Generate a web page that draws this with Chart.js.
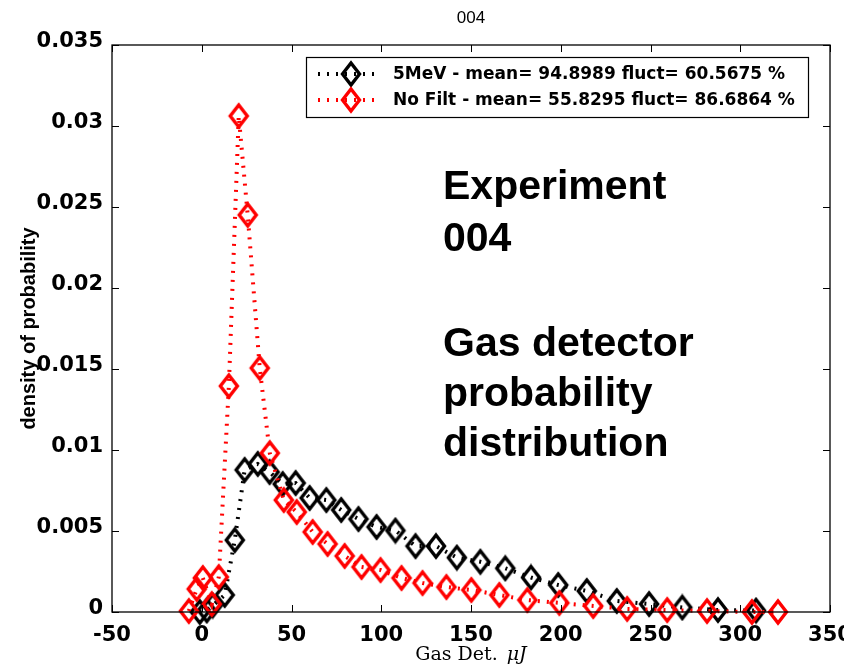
<!DOCTYPE html>
<html>
<head>
<meta charset="utf-8">
<script src="https://cdn.jsdelivr.net/npm/chart.js@4"></script>
<style>
    html, body { margin: 0; padding: 0; background: #fff; }
    #box { width: 844px; height: 667px; }
</style>
</head>
<body>
<div id="box"><canvas id="grafico"></canvas></div>
<script>
// 5MeV filter run
const xFiltro = [-1.1, 2.8, 6.1, 12.8, 18.4, 23.9, 31.2, 37.8, 45.1, 52.3, 60.1, 69.4, 77.7, 87.3, 97.4, 107.9, 119.1, 130.5, 142.1, 155.2, 169.1, 183.4, 198.6, 214.5, 231.2, 249.2, 267.7, 287.6, 308.8];
const yFiltro = [0, 0.0001, 0.0004, 0.00105, 0.00444, 0.00877, 0.00914, 0.00864, 0.0079, 0.00796, 0.00704, 0.00691, 0.0063, 0.00574, 0.00525, 0.00503, 0.00407, 0.00407, 0.00336, 0.0031, 0.0027, 0.00213, 0.00167, 0.0013, 0.00068, 0.00049, 0.00028, 0.00012, 0.00009];

// no filter run
const xSemFiltro = [-7.2, -2.8, 0.6, 5.6, 9.5, 15.1, 20.6, 25.6, 32.3, 37.9, 45.7, 52.9, 61.8, 70.1, 79.6, 89.0, 99.6, 111.3, 123.0, 136.3, 150.2, 165.8, 181.4, 199.2, 218.1, 237.0, 259.3, 281.5, 306.5, 321.0];
const ySemFiltro = [0.00006, 0.00142, 0.0021, 0.00049, 0.00216, 0.01395, 0.03062, 0.02451, 0.01506, 0.00981, 0.00691, 0.00617, 0.00494, 0.0042, 0.00346, 0.00278, 0.00259, 0.0021, 0.00179, 0.00154, 0.00136, 0.00105, 0.00074, 0.00056, 0.00037, 0.00019, 0.00012, 0.00006, 0, 0];

const legendas = ['5MeV - mean= 94.8989 fluct= 60.5675 %', 'No Filt - mean= 55.8295 fluct= 86.6864 %'];
const cores = ['#000000', '#ff0000'];
const textoAnotacao = ['Experiment', '004', '', 'Gas detector', 'probability', 'distribution'];
const titulo = '004';

const xTicks = [-50, 0, 50, 100, 150, 200, 250, 300, 350];
const yTicks = [0, 0.005, 0.01, 0.015, 0.02, 0.025, 0.03, 0.035];

// hollow diamond marker, a bit taller than wide
function criarLosango(cor) {
    var c = document.createElement('canvas');
    c.width = 24;
    c.height = 28;
    var ctx = c.getContext('2d');
    ctx.strokeStyle = cor;
    ctx.lineWidth = 3.4;
    ctx.lineJoin = 'miter';
    ctx.beginPath();
    ctx.moveTo(12, 3);
    ctx.lineTo(20.5, 14);
    ctx.lineTo(12, 25);
    ctx.lineTo(3.5, 14);
    ctx.closePath();
    ctx.stroke();
    return c;
}

const marcadores = [criarLosango(cores[0]), criarLosango(cores[1])];

function pares(xs, ys) {
    var out = [];
    for (var i = 0; i < xs.length; i++) {
        out.push({ x: xs[i], y: ys[i] });
    }
    return out;
}

// frame, inward ticks, title, axis labels, legend and text block
const moldura = {
    id: 'moldura',
    afterDraw(chart) {
        const ctx = chart.ctx;
        const a = chart.chartArea;
        const sx = chart.scales.x;
        const sy = chart.scales.y;
        ctx.save();
        ctx.strokeStyle = '#000';
        ctx.lineWidth = 1.3;
        ctx.strokeRect(a.left, a.top, a.right - a.left, a.bottom - a.top);

        ctx.beginPath();
        for (const v of xTicks) {
            const px = Math.round(sx.getPixelForValue(v)) + 0.5;
            ctx.moveTo(px, a.bottom);
            ctx.lineTo(px, a.bottom - 7);
            ctx.moveTo(px, a.top);
            ctx.lineTo(px, a.top + 7);
        }
        for (const v of yTicks) {
            const py = Math.round(sy.getPixelForValue(v)) + 0.5;
            ctx.moveTo(a.left, py);
            ctx.lineTo(a.left + 7, py);
            ctx.moveTo(a.right, py);
            ctx.lineTo(a.right - 7, py);
        }
        ctx.lineWidth = 1;
        ctx.stroke();

        const centroX = (a.left + a.right) / 2;
        ctx.fillStyle = '#000';
        ctx.textBaseline = 'middle';

        // title
        ctx.font = '17px "Liberation Sans"';
        ctx.textAlign = 'center';
        ctx.fillText(titulo, centroX, 18);

        // y label
        ctx.save();
        ctx.translate(29, (a.top + a.bottom) / 2);
        ctx.rotate(-Math.PI / 2);
        ctx.font = 'bold 20px "Liberation Sans"';
        ctx.fillText('density of probability', 0, 0);
        ctx.restore();

        // x label, unit in italics
        ctx.font = '19px "DejaVu Serif"';
        const parte1 = 'Gas Det.';
        const w1 = ctx.measureText(parte1).width;
        ctx.font = 'italic 19px "DejaVu Serif"';
        const w2 = ctx.measureText('μJ').width;
        const gap = 9;
        const x0 = centroX - (w1 + gap + w2) / 2;
        ctx.textAlign = 'left';
        ctx.font = '19px "DejaVu Serif"';
        ctx.fillText(parte1, x0, 655);
        ctx.font = 'italic 19px "DejaVu Serif"';
        ctx.fillText('μJ', x0 + w1 + gap, 655);

        // legend
        ctx.fillStyle = '#fff';
        ctx.fillRect(306, 57, 502, 60);
        ctx.strokeStyle = '#000';
        ctx.lineWidth = 1.2;
        ctx.strokeRect(306.5, 57.5, 502, 60);
        ctx.font = 'bold 17px "DejaVu Sans"';
        for (let i = 0; i < legendas.length; i++) {
            const ly = 74 + i * 26;
            ctx.save();
            ctx.strokeStyle = cores[i];
            ctx.lineWidth = 4;
            ctx.setLineDash([2, 7]);
            ctx.beginPath();
            ctx.moveTo(318, ly);
            ctx.lineTo(380, ly);
            ctx.stroke();
            ctx.restore();
            ctx.drawImage(marcadores[i], 351 - 12, ly - 14);
            ctx.fillStyle = '#000';
            ctx.fillText(legendas[i], 393, ly + 1);
        }

        // text block on the right
        ctx.font = 'bold 41px "Liberation Sans"';
        const alturas = [188, 240, 0, 345, 395, 445];
        for (let i = 0; i < textoAnotacao.length; i++) {
            if (textoAnotacao[i] === '') continue;
            ctx.fillText(textoAnotacao[i], 443, alturas[i]);
        }
        ctx.restore();
    }
};

const config = {
    type: 'scatter',
    data: {
        datasets: [{
            label: legendas[0],
            data: pares(xFiltro, yFiltro),
            showLine: true,
            borderColor: cores[0],
            borderWidth: 4,
            borderDash: [2, 7],
            pointStyle: marcadores[0],
            pointRadius: 10,
            clip: false,
            order: 2
        }, {
            label: legendas[1],
            data: pares(xSemFiltro, ySemFiltro),
            showLine: true,
            borderColor: cores[1],
            borderWidth: 4,
            borderDash: [2, 7],
            pointStyle: marcadores[1],
            pointRadius: 10,
            clip: false,
            order: 1
        }]
    },
    options: {
        responsive: true,
        maintainAspectRatio: false,
        animation: false,
        events: [],
        layout: {
            padding: { top: 45, right: 13, left: 0, bottom: 0 }
        },
        plugins: {
            legend: { display: false },
            title: { display: false },
            tooltip: { enabled: false }
        },
        scales: {
            x: {
                type: 'linear',
                min: -50,
                max: 350,
                afterBuildTicks: (s) => { s.ticks = xTicks.map(v => ({ value: v })); },
                afterFit: (s) => { s.height = 55; s.paddingLeft = 0; s.paddingRight = 0; },
                grid: { display: false, drawTicks: false },
                border: { display: false },
                ticks: {
                    color: '#000',
                    font: { family: 'DejaVu Sans', weight: 'bold', size: 21 },
                    padding: 11,
                    maxRotation: 0,
                    autoSkip: false
                }
            },
            y: {
                type: 'linear',
                min: 0,
                max: 0.035,
                afterBuildTicks: (s) => { s.ticks = yTicks.map(v => ({ value: v })); },
                afterFit: (s) => { s.width = 112; s.paddingTop = 0; s.paddingBottom = 0; },
                grid: { display: false, drawTicks: false },
                border: { display: false },
                ticks: {
                    color: '#000',
                    font: { family: 'DejaVu Sans', weight: 'bold', size: 21 },
                    padding: 9,
                    labelOffset: -3,
                    callback: (value) => String(Number(value.toFixed(3)))
                }
            }
        }
    },
    plugins: [moldura]
};

const grafico = new Chart(document.getElementById('grafico'), config);
</script>
</body>
</html>
